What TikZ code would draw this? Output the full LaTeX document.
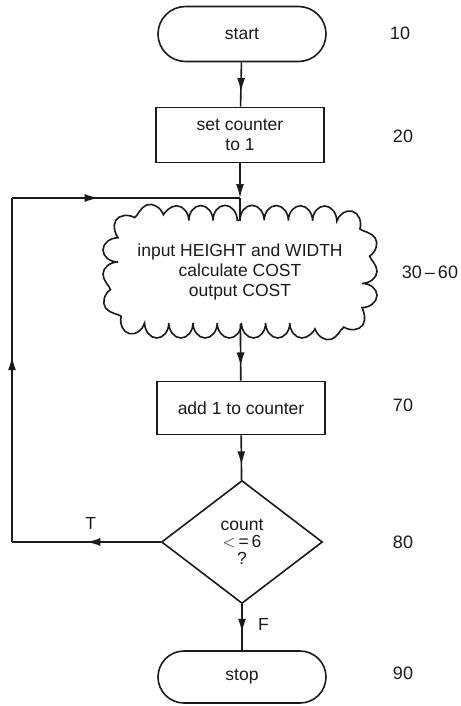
\documentclass[tikz,border=0pt]{standalone}
\usepackage{fontspec}
\setmainfont{Liberation Sans}
\usepackage{tikz}
\usetikzlibrary{positioning, arrows.meta, shapes.misc, shapes.geometric, decorations.markings, decorations.pathmorphing}
\definecolor{inkblack}{HTML}{1A1A1A}

\begin{document}
\begin{tikzpicture}[x=1pt, y=-1pt, line width=1.6pt, draw=inkblack,
    every node/.style={font=\fontsize{17.5}{20}\selectfont, text=inkblack},
    termbox/.style={draw, rounded rectangle, minimum width=168pt, minimum height=55pt, inner sep=0pt},
    procbox/.style={draw, rectangle, minimum width=168pt, minimum height=55pt, inner sep=0pt, align=center},
    cloudbox/.style={rectangle, minimum width=244pt, minimum height=102pt, inner sep=0pt, align=center},
    puffs/.style={decorate, decoration={bumps, segment length=48.4pt, amplitude=15pt}},
    testbox/.style={draw, diamond, minimum width=161pt, minimum height=123pt, inner sep=0pt, align=center},
    linenum/.style={font=\fontsize{18}{20}\selectfont},
    midarrow/.style={postaction={decorate, decoration={markings,
        mark=at position #1 with {\arrow{Latex[length=14pt,width=8pt]}}}}}]
    \useasboundingbox (0,0) rectangle (460,706);

    \node[termbox] (start) at (242,34) {start};
    \node[procbox] (setc) at (240,135) {set counter\\to 1};
    \node[cloudbox] (calc) at (240,272) {input HEIGHT and WIDTH\\calculate COST\\output COST};
    \node[procbox, minimum height=53pt] (addone) at (241,408) {add 1 to counter};
    \node[testbox] (test) at (242,542) {count\\[-3pt]$<$\,=\,6\\[-3pt]?};
    \node[termbox, minimum height=52pt] (stop) at (242,677) {stop};

    \draw[puffs] (calc.north) -- (327,221) arc[start angle=-90, end angle=0, radius=35]
        -- (362,288) arc[start angle=0, end angle=90, radius=35]
        -- (153,323) arc[start angle=90, end angle=180, radius=35]
        -- (118,256) arc[start angle=180, end angle=270, radius=35] -- cycle;

    \coordinate (join) at (setc.south |- 0,198);
    \coordinate (lowleft) at (12,542);
    \coordinate (upleft) at (12,198);

    \node[linenum] (n10) at (400,33) {10};
    \node[linenum] (n20) at (403,136) {20};
    \node[linenum] (n30) at (430,272) {30\,--\,60};
    \node[linenum] (n70) at (403,405) {70};
    \node[linenum] (n80) at (403,542) {80};
    \node[linenum] (n90) at (403,673) {90};

    \draw[midarrow=0.67] (start) -- (setc);
    \draw[-{Latex[length=14pt,width=8pt]}] (setc) -- (join);
    \draw (join) -- (calc.north);
    \draw[midarrow=0.75] (calc) -- (addone);
    \draw[midarrow=0.67] (addone) -- (test);
    \draw[midarrow=0.62] (test) -- node[right=12pt, pos=0.45] (f) {F} (stop);
    \draw[midarrow=0.5] (test.west) -- node[above=8pt, pos=0.47] (t) {T} (lowleft);
    \draw[midarrow=0.54] (lowleft) -- (upleft);
    \draw[midarrow=0.38] (upleft) -- (join);
\end{tikzpicture}
\end{document}
